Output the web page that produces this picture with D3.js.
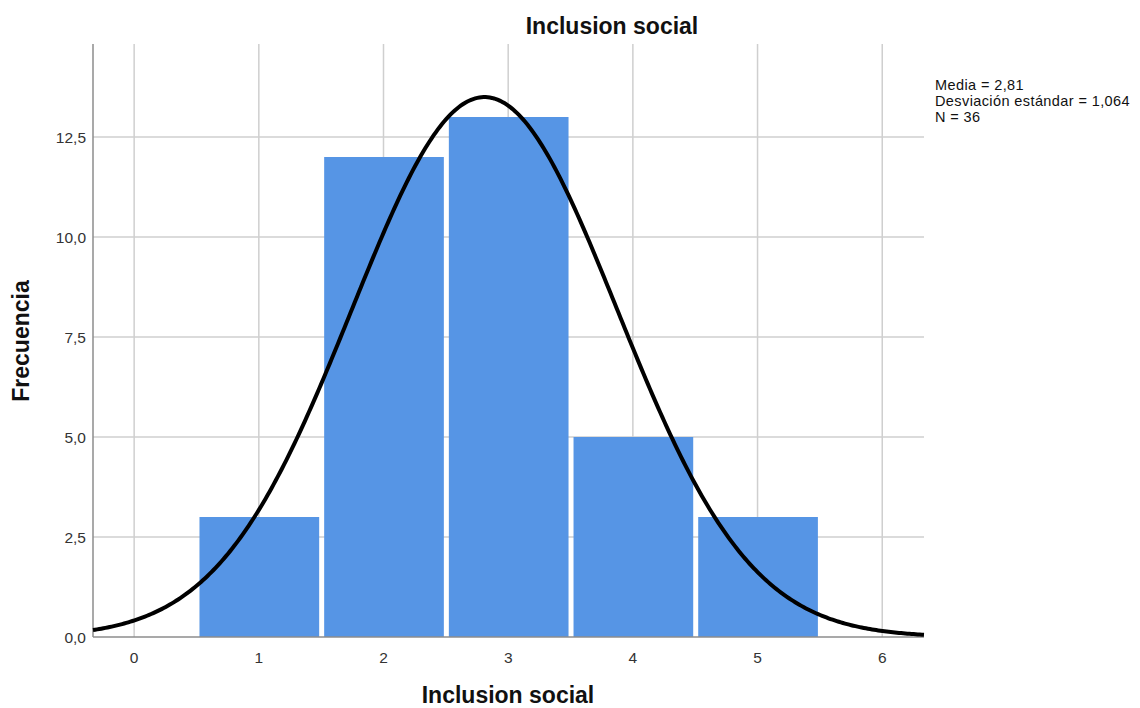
<!DOCTYPE html>
<html>
<head>
<meta charset="utf-8">
<script src="https://cdn.jsdelivr.net/npm/d3@7"></script>
<style>
  body { margin: 0; background: #fff; }
  text { font-family: "Liberation Sans", Arial, sans-serif; }
</style>
</head>
<body>
<svg id="chart" width="1140" height="708"></svg>
<script>

// Histogram data (frequency per value)
const binValues = [1, 2, 3, 4, 5];
const frequencies = [3, 12, 13, 5, 3];
const xTicks = [0, 1, 2, 3, 4, 5, 6];
const yTicks = [0, 2.5, 5, 7.5, 10, 12.5];

// Summary stats shown on the right
const mean = 2.81;
const stdDev = 1.064;
const n = 36;
const statsLines = ["Media = 2,81", "Desviación estándar = 1,064", "N = 36"];

const svg = d3.select("#chart");

const plot = { left: 93, right: 924, top: 44, bottom: 637 };

const x = d3.scaleLinear()
    .domain([-0.33, 6.335])
    .range([plot.left, plot.right]);

const y = d3.scaleLinear()
    .domain([0, 14.825])
    .range([plot.bottom, plot.top]);

const comma = v => d3.format(".1f")(v).replace(".", ",");

// Grid
svg.append("g")
    .selectAll("line")
    .data(xTicks)
    .join("line")
    .attr("x1", d => x(d)).attr("x2", d => x(d))
    .attr("y1", plot.top).attr("y2", plot.bottom)
    .attr("stroke", "#cfcfcf")
    .attr("stroke-width", 1.5);

svg.append("g")
    .selectAll("line")
    .data(yTicks.filter(d => d > 0))
    .join("line")
    .attr("x1", plot.left).attr("x2", plot.right)
    .attr("y1", d => y(d)).attr("y2", d => y(d))
    .attr("stroke", "#cfcfcf")
    .attr("stroke-width", 1.5);

// Bars
const bins = binValues.map((v, i) => ({ x0: v - 0.5, x1: v + 0.5, f: frequencies[i] }));

svg.append("g")
    .selectAll("rect")
    .data(bins)
    .join("rect")
    .attr("x", d => x(d.x0) + 3)
    .attr("width", d => x(d.x1) - x(d.x0) - 5)
    .attr("y", d => y(d.f))
    .attr("height", d => y(0) - y(d.f))
    .attr("fill", "#5695e5");

// Axes lines
svg.append("line")
    .attr("x1", plot.left).attr("x2", plot.left)
    .attr("y1", plot.top).attr("y2", plot.bottom)
    .attr("stroke", "#8c8c8c").attr("stroke-width", 1.5);

svg.append("line")
    .attr("x1", plot.left).attr("x2", plot.right)
    .attr("y1", plot.bottom).attr("y2", plot.bottom)
    .attr("stroke", "#8c8c8c").attr("stroke-width", 1.5);

// Normal curve from the stated mean / sd / N (bin width 1)
const pdf = t => n / (stdDev * Math.sqrt(2 * Math.PI)) *
    Math.exp(-0.5 * Math.pow((t - mean) / stdDev, 2));

const curvePts = d3.range(0, 401).map(i => {
    const t = x.domain()[0] + (x.domain()[1] - x.domain()[0]) * i / 400;
    return [t, pdf(t)];
});

svg.append("path")
    .datum(curvePts)
    .attr("fill", "none")
    .attr("stroke", "#000")
    .attr("stroke-width", 4)
    .attr("d", d3.line().x(d => x(d[0])).y(d => y(d[1])));

// Tick labels
svg.append("g")
    .selectAll("text")
    .data(xTicks)
    .join("text")
    .attr("x", d => x(d))
    .attr("y", 663)
    .attr("text-anchor", "middle")
    .attr("font-size", 15.5)
    .attr("fill", "#333")
    .text(d => d);

svg.append("g")
    .selectAll("text")
    .data(yTicks)
    .join("text")
    .attr("x", 86)
    .attr("y", d => y(d) + 5.5)
    .attr("text-anchor", "end")
    .attr("font-size", 15.5)
    .attr("fill", "#333")
    .text(d => comma(d));

// Titles
svg.append("text")
    .attr("x", 612).attr("y", 34)
    .attr("text-anchor", "middle")
    .attr("font-size", 23).attr("font-weight", "bold")
    .attr("fill", "#111")
    .text("Inclusion social");

svg.append("text")
    .attr("x", 508).attr("y", 703)
    .attr("text-anchor", "middle")
    .attr("font-size", 23).attr("font-weight", "bold")
    .attr("fill", "#111")
    .text("Inclusion social");

svg.append("text")
    .attr("transform", "translate(29,341) rotate(-90)")
    .attr("text-anchor", "middle")
    .attr("font-size", 23).attr("font-weight", "bold")
    .attr("fill", "#111")
    .text("Frecuencia");

// Stats box
svg.append("g")
    .selectAll("text")
    .data(statsLines)
    .join("text")
    .attr("x", 935)
    .attr("y", (d, i) => 90 + i * 16)
    .attr("font-size", 14.5)
    .attr("letter-spacing", 0.4)
    .attr("fill", "#111")
    .text(d => d);

</script>
</body>
</html>
